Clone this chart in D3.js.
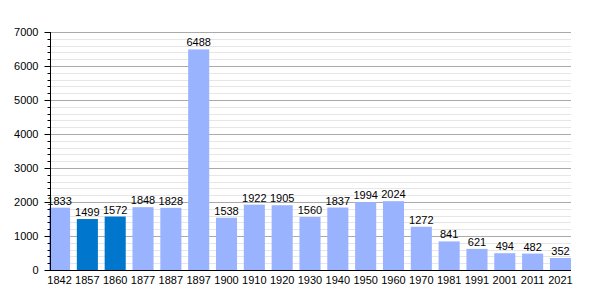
<!DOCTYPE html>
<html>
<head>
<meta charset="utf-8">
<script src="https://cdn.jsdelivr.net/npm/d3@7"></script>
<style>
  body { margin: 0; background: #fff; }
  text { font-family: "Liberation Sans", Arial, sans-serif; font-size: 11px; fill: #000; }
</style>
</head>
<body>
<svg id="MyGraph" width="600" height="300"></svg>
<script>
var years = ["1842","1857","1860","1877","1887","1897","1900","1910","1920","1930","1940","1950","1960","1970","1981","1991","2001","2011","2021"];
var population = [1833,1499,1572,1848,1828,6488,1538,1922,1905,1560,1837,1994,2024,1272,841,621,494,482,352];
var highlighted = ["1857","1860"];
var yTicks = [0,1000,2000,3000,4000,5000,6000,7000];

var data = years.map(function(y, i){ return {year: y, value: population[i]}; });

var svg = d3.select("#MyGraph");
// plot area edges
var plotLeft = 50, plotRight = 571, plotTop = 32, plotBottom = 270;

var x = d3.scaleBand()
    .domain(years)
    .range([49, plotRight])
    .paddingInner(0.243)
    .paddingOuter(0);

var y = d3.scaleLinear()
    .domain([0, 7000])
    .range([plotBottom, plotTop]);

function py(d){ return Math.round(y(d)) + 0.5; }

// minor grid every 200
var minor = d3.range(200, 7000, 200).filter(function(v){ return v % 1000 != 0; });
svg.append("g").selectAll("line")
    .data(minor).enter().append("line")
    .attr("x1", plotLeft).attr("x2", plotRight)
    .attr("y1", py).attr("y2", py)
    .attr("stroke", "#e6e6e6");

// major grid
svg.append("g").selectAll("line")
    .data(yTicks.slice(1)).enter().append("line")
    .attr("x1", plotLeft).attr("x2", plotRight)
    .attr("y1", py).attr("y2", py)
    .attr("stroke", "#aaaaaa");

// bars
svg.append("g").selectAll("rect")
    .data(data).enter().append("rect")
    .attr("x", function(d){ return x(d.year); })
    .attr("width", x.bandwidth())
    .attr("y", function(d){ return y(d.value); })
    .attr("height", function(d){ return plotBottom - y(d.value); })
    .attr("fill", function(d){ return highlighted.indexOf(d.year) >= 0 ? "#0077cc" : "#99b3ff"; });

// value labels
svg.append("g").selectAll("text")
    .data(data).enter().append("text")
    .attr("x", function(d){ return x(d.year) + x.bandwidth() / 2; })
    .attr("y", function(d){ return y(d.value) - 3; })
    .attr("text-anchor", "middle")
    .text(function(d){ return d.value; });

// y axis with minor ticks
var yAxis = svg.append("g").attr("transform", "translate(" + (plotLeft + 0.5) + ",0)");
yAxis.append("line")
    .attr("y1", plotTop).attr("y2", plotBottom + 1)
    .attr("stroke", "#000");
yAxis.selectAll("line.minor")
    .data(minor).enter().append("line")
    .attr("class", "minor")
    .attr("x1", -3).attr("x2", 0)
    .attr("y1", py).attr("y2", py)
    .attr("stroke", "#000");
yAxis.selectAll("line.major")
    .data(yTicks).enter().append("line")
    .attr("class", "major")
    .attr("x1", -6).attr("x2", 0)
    .attr("y1", py).attr("y2", py)
    .attr("stroke", "#000");
yAxis.selectAll("text")
    .data(yTicks).enter().append("text")
    .attr("x", -12)
    .attr("y", function(d){ return y(d); })
    .attr("dy", "0.35em")
    .attr("text-anchor", "end")
    .text(function(d){ return d; });

// x axis
svg.append("line")
    .attr("x1", plotLeft).attr("x2", plotRight)
    .attr("y1", plotBottom + 0.5).attr("y2", plotBottom + 0.5)
    .attr("stroke", "#000");
svg.append("g").selectAll("text")
    .data(years).enter().append("text")
    .attr("x", function(d){ return x(d) + x.bandwidth() / 2; })
    .attr("y", plotBottom + 14)
    .attr("text-anchor", "middle")
    .text(function(d){ return d; });
</script>
</body>
</html>
